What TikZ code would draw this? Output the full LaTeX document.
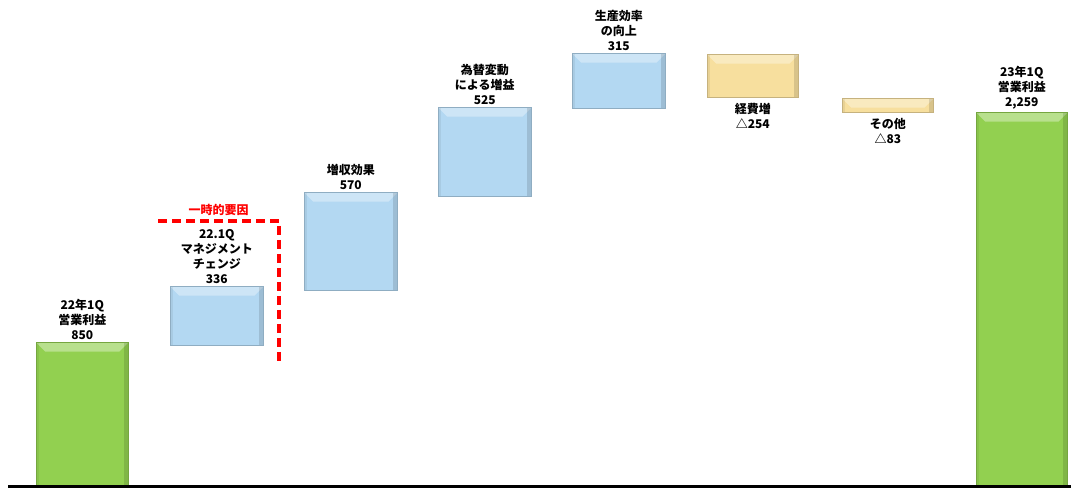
\documentclass[tikz,border=0pt]{standalone}
\usepackage{fontspec}
\setmainfont{Noto Sans CJK JP}
\usetikzlibrary{positioning,calc}

\begin{document}
\begin{tikzpicture}[x=1pt,y=1pt,
  bar/.style={draw=#1!80!black,line width=.6pt,fill=#1,anchor=south west,inner sep=0pt,
    path picture={\fill[white,opacity=.35] (path picture bounding box.north west)
      -- (path picture bounding box.north east) -- ([xshift=-9pt,yshift=-9pt]path picture bounding box.north east)
      -- ([xshift=9pt,yshift=-9pt]path picture bounding box.north west) -- cycle;
      \fill[black,opacity=.12] (path picture bounding box.north east) -- (path picture bounding box.south east)
      -- ([xshift=-4pt]path picture bounding box.south east) -- ([xshift=-4pt]path picture bounding box.north east) -- cycle;
      \fill[black,opacity=.06] (path picture bounding box.north west) -- (path picture bounding box.south west)
      -- ([xshift=3pt]path picture bounding box.south west) -- ([xshift=3pt]path picture bounding box.north west) -- cycle;}},
  lbl/.style={align=center,font=\fontsize{12}{15}\selectfont\bfseries,inner sep=1pt}]
  \definecolor{barblue}{HTML}{B3D8F2}
  \definecolor{bargreen}{HTML}{92D050}
  \definecolor{baryellow}{HTML}{F7DF9E}
  \useasboundingbox (0,0) rectangle (1071,490);
  % bars
  \node[bar=bargreen,minimum width=92,minimum height=143] (g1) at (36,4) {};
  \node[bar=barblue,minimum width=93,minimum height=59] (b1) at (170,144) {};
  \node[bar=barblue,minimum width=93,minimum height=98] (b2) at (304,199) {};
  \node[bar=barblue,minimum width=93,minimum height=89] (b3) at (438,293) {};
  \node[bar=barblue,minimum width=93,minimum height=55] (b4) at (572,381) {};
  \node[bar=baryellow,minimum width=91,minimum height=43] (y1) at (707,392) {};
  \node[bar=baryellow,minimum width=91,minimum height=14] (y2) at (842,377) {};
  \node[bar=bargreen,minimum width=91,minimum height=373] (g2) at (976,4) {};
  % labels
  \node[lbl,above=2 of g1] (lg1) {22年1Q\\営業利益\\850};
  \node[lbl,above=2 of b1] (lb1) {22.1Q\\マネジメント\\チェンジ\\336};
  \node[lbl,above=2 of b2] (lb2) {増収効果\\570};
  \node[lbl,above=2 of b3] (lb3) {為替変動\\による増益\\525};
  \node[lbl,above=2 of b4] (lb4) {生産効率\\の向上\\315};
  \node[lbl,below=4 of y1] (ly1) {経費増\\△254};
  \node[lbl,below=4 of y2] (ly2) {その他\\△83};
  \node[lbl,above=2 of g2] (lg2) {23年1Q\\営業利益\\2,259};
  % one-off factor
  \coordinate (r1) at (158,269);
  \coordinate (r2) at (279,269);
  \coordinate (r3) at (279,125);
  \coordinate (rm) at ($(r1)!.5!(r2)$);
  \draw[red,line width=3.5pt,dash pattern=on 9pt off 5pt] (r1) -- (r2) -- (r3);
  \node[lbl,text=red,above=4 of rm] (lr) {一時的要因};
  % axis
  \coordinate (a1) at (8,4);
  \coordinate (a2) at (1071,4);
  \draw[line width=3pt] (a1) -- (a2);
\end{tikzpicture}
\end{document}
